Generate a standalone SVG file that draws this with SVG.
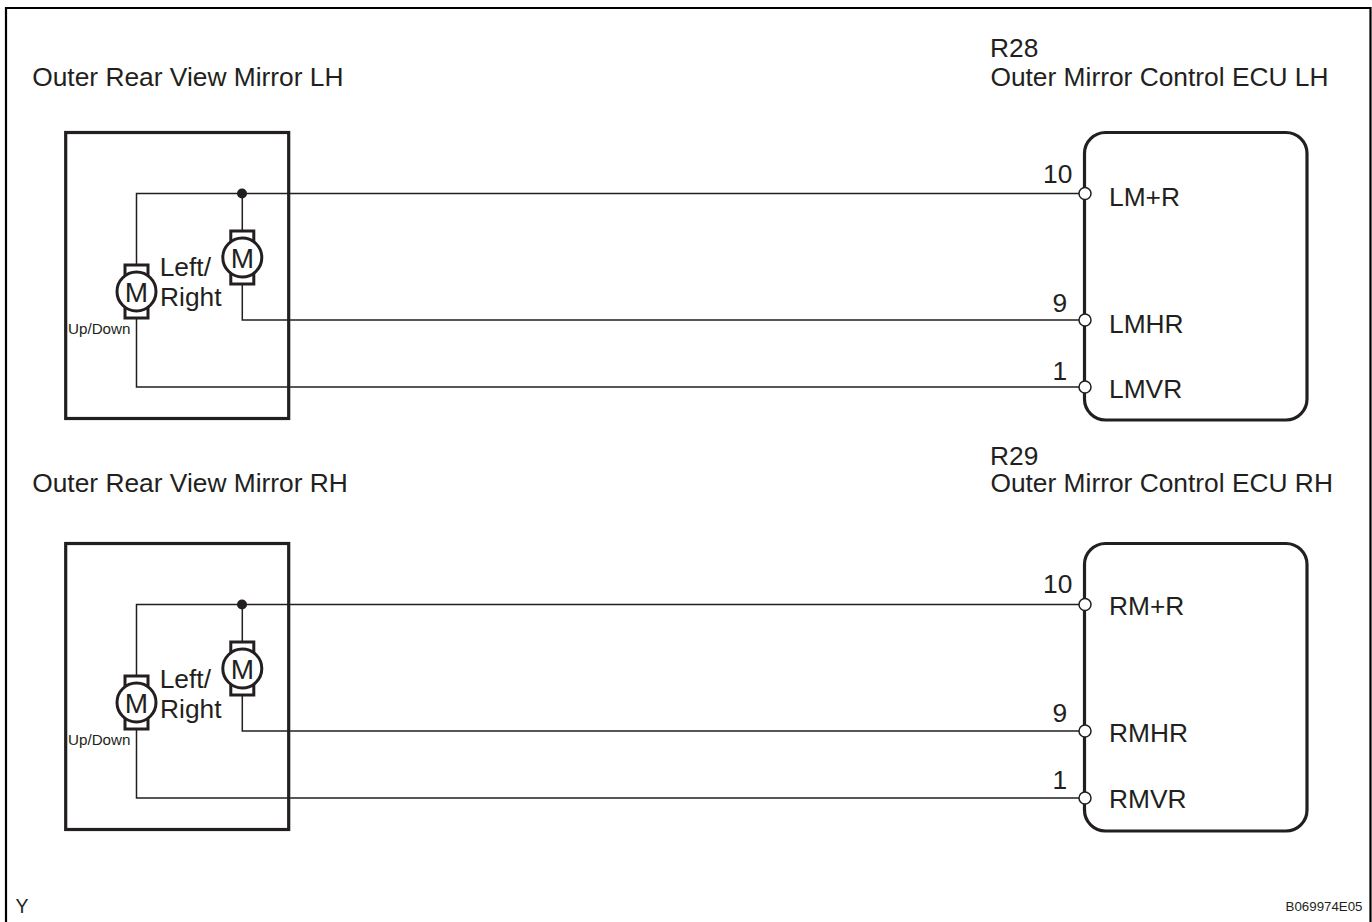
<svg xmlns="http://www.w3.org/2000/svg" width="1372" height="922" viewBox="0 0 1372 922">
<style>
text{font-family:"Liberation Sans",Arial,sans-serif;fill:#231f20;font-size:26.35px}
.ud{font-size:15.2px}
.y{font-size:19.5px}
.code{font-size:13.3px}
.m{font-size:28px}
.box{fill:none;stroke:#231f20;stroke-width:3.2}
.w{fill:none;stroke:#231f20;stroke-width:1.5}
.cap{fill:#fff;stroke:#231f20;stroke-width:3}
.mc{fill:#fff;stroke:#231f20;stroke-width:3}
.p{fill:#fff;stroke:#231f20;stroke-width:1.5}
</style>
<defs>
<g id="motor">
<rect class="cap" x="-11.5" y="-26.5" width="23" height="53"/>
<circle class="mc" r="19.5"/>
<text class="m" x="0" y="10" text-anchor="middle">M</text>
</g>
</defs>
<path id="frame" d="M6 923V8H1370.5V923" fill="none" stroke="#000" stroke-width="2.2"/>
<g id="mirror-lh">
<rect class="box" x="65.7" y="132.5" width="223" height="286"/>
<text x="32.2" y="86">Outer Rear View Mirror LH</text>
</g>
<g id="mirror-rh">
<rect class="box" x="65.7" y="543.5" width="223" height="286"/>
<text x="32.2" y="491.7">Outer Rear View Mirror RH</text>
</g>
<g id="connectors">
<path class="w" d="M1085 193.5H136.5V387H1085M242.3 193.5V320H1085"/>
<path class="w" d="M1085 604.5H136.5V798H1085M242.3 604.5V731H1085"/>
</g>
<g id="motors-lh">
<use href="#motor" x="136.5" y="291.5"/>
<use href="#motor" x="242.3" y="257.5"/>
<circle cx="242" cy="193.5" r="5" fill="#231f20"/>
<text x="159.7" y="276">Left/</text>
<text x="160" y="306">Right</text>
<text class="ud" x="68" y="333.5">Up/Down</text>
</g>
<g id="motors-rh">
<use href="#motor" x="136.5" y="702.5"/>
<use href="#motor" x="242.3" y="668.5"/>
<circle cx="242" cy="604.5" r="5" fill="#231f20"/>
<text x="159.7" y="688">Left/</text>
<text x="160" y="718">Right</text>
<text class="ud" x="68" y="745">Up/Down</text>
</g>
<g id="ecu-lh">
<rect class="box" x="1084.5" y="132.5" width="222.5" height="287.5" rx="21"/>
<circle class="p" cx="1085" cy="193.5" r="6"/>
<circle class="p" cx="1085" cy="320" r="6"/>
<circle class="p" cx="1085" cy="387" r="6"/>
<text x="990" y="57">R28</text>
<text x="990.4" y="86">Outer Mirror Control ECU LH</text>
<text x="1043" y="182.5">10</text>
<text x="1052.5" y="311.5">9</text>
<text x="1052.5" y="380">1</text>
<text x="1109" y="206">LM+R</text>
<text x="1109" y="332.5">LMHR</text>
<text x="1109" y="397.5">LMVR</text>
</g>
<g id="ecu-rh">
<rect class="box" x="1084.5" y="543.5" width="222.5" height="287.5" rx="21"/>
<circle class="p" cx="1085" cy="604.5" r="6"/>
<circle class="p" cx="1085" cy="731" r="6"/>
<circle class="p" cx="1085" cy="798" r="6"/>
<text x="990" y="465">R29</text>
<text x="990.4" y="491.7">Outer Mirror Control ECU RH</text>
<text x="1043" y="592.7">10</text>
<text x="1052.5" y="721.7">9</text>
<text x="1052.5" y="789.3">1</text>
<text x="1109" y="615">RM+R</text>
<text x="1109" y="742.3">RMHR</text>
<text x="1109" y="807.7">RMVR</text>
</g>
<text id="y" class="y" x="15.5" y="912.5">Y</text>
<text id="code" class="code" x="1362.5" y="910.5" text-anchor="end">B069974E05</text>
</svg>
